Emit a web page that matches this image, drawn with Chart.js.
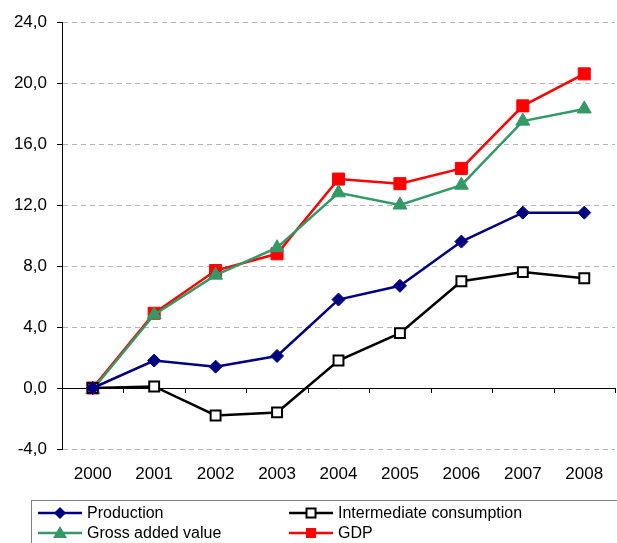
<!DOCTYPE html>
<html>
<head>
<meta charset="utf-8">
<script src="https://cdn.jsdelivr.net/npm/chart.js@4/dist/chart.umd.min.js"></script>
<style>
  html, body { margin: 0; padding: 0; background: #fff; overflow: hidden; }
  #wrap { position: relative; width: 617px; height: 543px; }
  #legend { position: absolute; left: 31px; top: 500px; width: 600px; height: 60px;
    border: 1px solid #808080; box-sizing: border-box; font-family: "Liberation Sans", Arial, sans-serif; font-size: 16px; color: #000; }
  .item { position: absolute; height: 20px; display: flex; align-items: center; }
  .item svg { margin-right: 5px; }
</style>
</head>
<body>
<div id="wrap">
  <canvas id="c" width="617" height="543"></canvas>
  <div id="legend"></div>
</div>
<script>
const years = ["2000","2001","2002","2003","2004","2005","2006","2007","2008"];
const production = [0, 1.8, 1.4, 2.1, 5.8, 6.7, 9.6, 11.5, 11.5];
const intermediate = [0, 0.1, -1.8, -1.6, 1.8, 3.6, 7.0, 7.6, 7.2];
const grossAdded = [-0.1, 4.8, 7.4, 9.2, 12.8, 12.0, 13.3, 17.5, 18.3];
const gdp = [0, 4.9, 7.7, 8.8, 13.7, 13.4, 14.4, 18.5, 20.6];
const yTicks = [-4, 0, 4, 8, 12, 16, 20, 24];

const FONT = "'Liberation Sans', Arial, sans-serif";

const zeroAxis = {
  id: 'zeroAxis',
  beforeDatasetsDraw(chart) {
    const {ctx, chartArea, scales} = chart;
    const y0 = scales.y.getPixelForValue(0);
    ctx.save();
    ctx.strokeStyle = '#000';
    ctx.lineWidth = 1;
    ctx.setLineDash([]);
    ctx.beginPath();
    ctx.moveTo(chartArea.left, Math.round(y0) + 0.5);
    ctx.lineTo(chartArea.right, Math.round(y0) + 0.5);
    const n = years.length;
    for (let i = 0; i <= n; i++) {
      const px = Math.round(chartArea.left + (chartArea.right - chartArea.left) * i / n) + 0.5;
      ctx.moveTo(px, y0);
      ctx.lineTo(px, y0 + 5);
    }
    ctx.stroke();
    ctx.restore();
  }
};

const chart = new Chart(document.getElementById('c'), {
  type: 'line',
  data: {
    labels: years,
    datasets: [
      { label: 'Production', data: production, borderColor: '#000080', backgroundColor: '#000080',
        pointStyle: 'rectRot', pointRadius: 6.5, borderWidth: 2.5, pointBorderWidth: 1 },
      { label: 'Intermediate consumption', data: intermediate, borderColor: '#000000', backgroundColor: '#ffffff',
        pointStyle: 'rect', pointRadius: 7, borderWidth: 2.5, pointBorderWidth: 2 },
      { label: 'Gross added value', data: grossAdded, borderColor: '#339966', backgroundColor: '#339966',
        pointStyle: 'triangle', pointRadius: 8, borderWidth: 2.5, pointBorderWidth: 1 },
      { label: 'GDP', data: gdp, borderColor: '#ff0000', backgroundColor: '#ff0000',
        pointStyle: 'rect', pointRadius: 8.5, borderWidth: 2.5, pointBorderWidth: 1 }
    ]
  },
  options: {
    responsive: false,
    animation: false,
    events: [],
    layout: { autoPadding: false, padding: { left: 0, right: 2, top: 22, bottom: 56 } },
    plugins: { legend: { display: false }, tooltip: { enabled: false } },
    elements: { line: { tension: 0 } },
    scales: {
      x: {
        type: 'category',
        offset: true,
        grid: { display: false, drawTicks: false },
        border: { display: false },
        ticks: { color: '#000', font: { family: FONT, size: 17 }, padding: 15, maxRotation: 0, autoSkip: false },
        afterFit(s) { s.height = 38; s.paddingLeft = 0; s.paddingRight = 0; }
      },
      y: {
        min: -4, max: 24,
        afterBuildTicks(s) { s.ticks = yTicks.map(v => ({ value: v })); },
        ticks: { color: '#000', font: { family: FONT, size: 17 }, padding: 10,
          callback: v => v.toFixed(1).replace('.', ',') },
        grid: {
          color: c => (c.tick && c.tick.value === 0) ? 'rgba(0,0,0,0)' : '#b4b4b4',
          tickColor: '#000', tickLength: 5, tickWidth: 1, lineWidth: 1, tickBorderDash: []
        },
        border: { display: true, color: '#000', width: 1, dash: [5, 4] },
        afterFit(s) { s.width = 62; s.paddingTop = 0; s.paddingBottom = 0; }
      }
    }
  },
  plugins: [zeroAxis]
});

// HTML legend
const legendSpec = [
  { ds: 0, left: 6, top: 2, marker: 'diamond' },
  { ds: 1, left: 257, top: 2, marker: 'square' },
  { ds: 2, left: 6, top: 22, marker: 'triangle' },
  { ds: 3, left: 257, top: 22, marker: 'square' }
];
const legendEl = document.getElementById('legend');
legendSpec.forEach(sp => {
  const d = chart.data.datasets[sp.ds];
  let m = '';
  if (sp.marker === 'diamond') m = `<polygon points="22,4 28,10 22,16 16,10" fill="${d.backgroundColor}"/>`;
  else if (sp.marker === 'triangle') m = `<polygon points="22,3 29,15 15,15" fill="${d.backgroundColor}"/>`;
  else if (sp.ds === 1) m = `<rect x="17.5" y="5.5" width="9" height="9" fill="#fff" stroke="#000" stroke-width="2"/>`;
  else m = `<rect x="17" y="5" width="10" height="10" fill="${d.backgroundColor}"/>`;
  const div = document.createElement('div');
  div.className = 'item';
  div.style.left = sp.left + 'px';
  div.style.top = sp.top + 'px';
  div.innerHTML = `<svg width="44" height="20"><line x1="0" y1="10" x2="44" y2="10" stroke="${d.borderColor}" stroke-width="2.5"/>${m}</svg><span>${d.label}</span>`;
  legendEl.appendChild(div);
});
</script>
</body>
</html>
